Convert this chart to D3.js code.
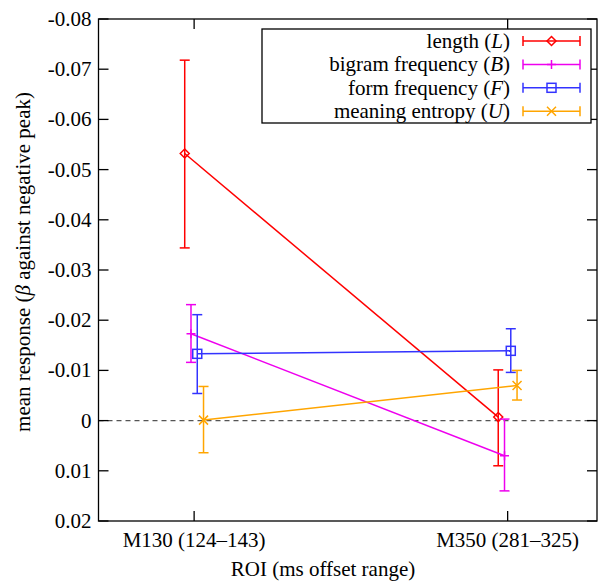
<!DOCTYPE html>
<html><head><meta charset="utf-8">
<script src="https://cdn.jsdelivr.net/npm/d3@7"></script>
<style>body{margin:0;background:#fff}</style>
</head><body><svg id="c" width="598" height="582"></svg>
<script>
const categories = ["M130 (124\u2013143)", "M350 (281\u2013325)"];
const seriesNames = ["length", "bigram frequency", "form frequency", "meaning entropy"];
const seriesSymbols = ["L", "B", "F", "U"];
const seriesColors = ["#ff0000", "#ee00ee", "#3333ff", "#ffa500"];
const seriesOffsets = [-0.03, -0.01, 0.01, 0.03];
const meanL = [-0.0532, -0.0007];
const loL = [-0.0344, 0.0090];
const hiL = [-0.0718, -0.0101];
const meanB = [-0.0173, 0.0070];
const loB = [-0.0116, 0.0140];
const hiB = [-0.0231, -0.0003];
const meanF = [-0.0133, -0.0139];
const loF = [-0.0054, -0.0096];
const hiF = [-0.0211, -0.0183];
const meanU = [-0.0001, -0.0070];
const loU = [0.0064, -0.0041];
const hiU = [-0.0068, -0.0100];
const yTicks = [-0.08, -0.07, -0.06, -0.05, -0.04, -0.03, -0.02, -0.01, 0, 0.01, 0.02];
const yTickLabels = ["-0.08", "-0.07", "-0.06", "-0.05", "-0.04", "-0.03", "-0.02", "-0.01", "0", "0.01", "0.02"];

const series = [
  {mean: meanL, lo: loL, hi: hiL, marker: "diamond"},
  {mean: meanB, lo: loB, hi: hiB, marker: "plus"},
  {mean: meanF, lo: loF, hi: hiF, marker: "square"},
  {mean: meanU, lo: loU, hi: hiU, marker: "cross"}
];

const svg = d3.select("#c");
const L = 98.5, R = 597, T = 19, B = 521;
const x = d3.scaleLinear().domain([-0.305, 1.285]).range([L, R]);
const y = d3.scaleLinear().domain([-0.08, 0.02]).range([T, B]);
const FF = '"Liberation Serif"';
function txt(sel) { return sel.append("text").style("font-family", FF).attr("font-size", 21); }

svg.append("line").attr("x1", L).attr("x2", R).attr("y1", y(0)).attr("y2", y(0))
  .attr("stroke", "#555").attr("stroke-width", 1.3).attr("stroke-dasharray", "5,4");

svg.append("rect").attr("x", L).attr("y", T).attr("width", R - L).attr("height", B - T)
  .attr("fill", "none").attr("stroke", "#000").attr("stroke-width", 1.3);

const tl = 10;
yTicks.forEach((t, i) => {
  svg.append("line").attr("x1", L).attr("x2", L + tl).attr("y1", y(t)).attr("y2", y(t)).attr("stroke", "#000").attr("stroke-width", 1.3);
  svg.append("line").attr("x1", R).attr("x2", R - tl).attr("y1", y(t)).attr("y2", y(t)).attr("stroke", "#000").attr("stroke-width", 1.3);
  txt(svg).attr("x", L - 7).attr("y", y(t) + 7).attr("text-anchor", "end").text(yTickLabels[i]);
});
categories.forEach((c, i) => {
  svg.append("line").attr("x1", x(i)).attr("x2", x(i)).attr("y1", B).attr("y2", B - tl).attr("stroke", "#000").attr("stroke-width", 1.3);
  svg.append("line").attr("x1", x(i)).attr("x2", x(i)).attr("y1", T).attr("y2", T + tl).attr("stroke", "#000").attr("stroke-width", 1.3);
  txt(svg).attr("x", x(i)).attr("y", 547).attr("text-anchor", "middle").text(c);
});

txt(svg).attr("x", 323).attr("y", 576).attr("text-anchor", "middle").text("ROI (ms offset range)");
const yl = txt(svg).attr("transform", "translate(30,262) rotate(-90)").attr("text-anchor", "middle");
yl.append("tspan").text("mean response (");
yl.append("tspan").attr("font-style", "italic").text("\u03b2");
yl.append("tspan").text(" against negative peak)");

function drawMarker(g, type, cx, cy, color) {
  const s = 4.5;
  if (type === "diamond") {
    g.append("path").attr("d", `M${cx - s},${cy}L${cx},${cy - s}L${cx + s},${cy}L${cx},${cy + s}Z`)
      .attr("fill", "none").attr("stroke", color).attr("stroke-width", 1.5);
  } else if (type === "plus") {
    g.append("path").attr("d", `M${cx - s},${cy}H${cx + s}M${cx},${cy - s}V${cy + s}`)
      .attr("stroke", color).attr("stroke-width", 1.5);
  } else if (type === "square") {
    g.append("rect").attr("x", cx - s).attr("y", cy - s).attr("width", 2 * s).attr("height", 2 * s)
      .attr("fill", "none").attr("stroke", color).attr("stroke-width", 1.5);
  } else {
    g.append("path").attr("d", `M${cx - s},${cy - s}L${cx + s},${cy + s}M${cx - s},${cy + s}L${cx + s},${cy - s}`)
      .attr("stroke", color).attr("stroke-width", 1.5);
  }
}

const cap = 5;
series.forEach((s, k) => {
  const col = seriesColors[k];
  const g = svg.append("g");
  const pts = s.mean.map((m, i) => [x(i + seriesOffsets[k]), y(m)]);
  g.append("path").attr("d", d3.line()(pts)).attr("fill", "none").attr("stroke", col).attr("stroke-width", 1.5);
  s.mean.forEach((m, i) => {
    const cx = x(i + seriesOffsets[k]);
    g.append("line").attr("x1", cx).attr("x2", cx).attr("y1", y(s.lo[i])).attr("y2", y(s.hi[i])).attr("stroke", col).attr("stroke-width", 1.5);
    [s.lo[i], s.hi[i]].forEach(v => g.append("line").attr("x1", cx - cap).attr("x2", cx + cap).attr("y1", y(v)).attr("y2", y(v)).attr("stroke", col).attr("stroke-width", 1.5));
    drawMarker(g, s.marker, cx, y(m), col);
  });
});

const lg = svg.append("g");
lg.append("rect").attr("x", 262).attr("y", 29).attr("width", 329).attr("height", 94)
  .attr("fill", "#fff").attr("stroke", "#000").attr("stroke-width", 1.3);
seriesNames.forEach((n, k) => {
  const ry = 41 + k * 23.4;
  const col = seriesColors[k];
  const t = txt(lg).attr("x", 510).attr("y", ry + 7).attr("text-anchor", "end");
  t.append("tspan").text(n + " (");
  t.append("tspan").attr("font-style", "italic").text(seriesSymbols[k]);
  t.append("tspan").text(")");
  lg.append("line").attr("x1", 523).attr("x2", 580).attr("y1", ry).attr("y2", ry).attr("stroke", col).attr("stroke-width", 1.5);
  [523, 580].forEach(xx => lg.append("line").attr("x1", xx).attr("x2", xx).attr("y1", ry - cap).attr("y2", ry + cap).attr("stroke", col).attr("stroke-width", 1.5));
  drawMarker(lg, series[k].marker, 551.5, ry, col);
});
</script></body></html>
